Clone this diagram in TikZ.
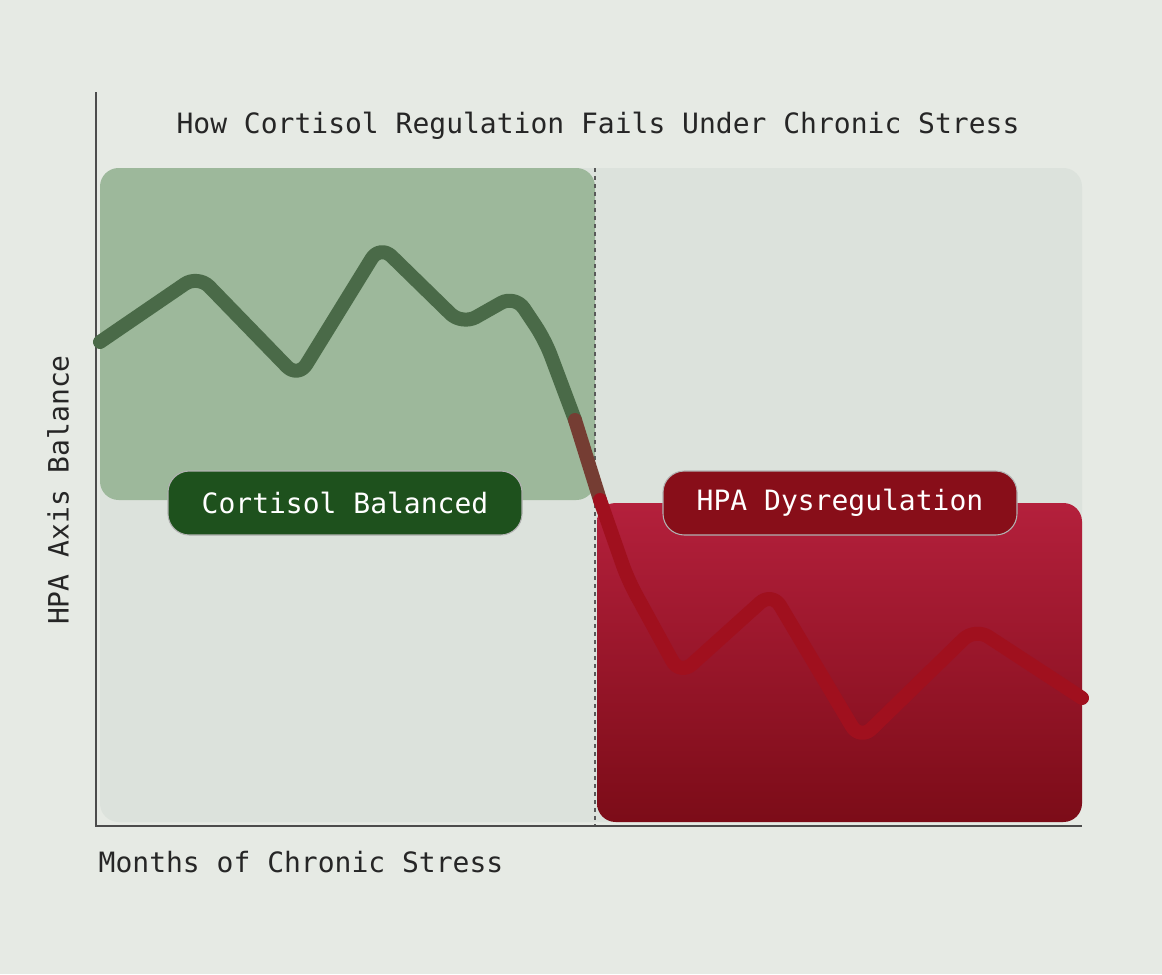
\documentclass[tikz,border=0pt]{standalone}
\usepackage{fontspec}
\setmonofont{DejaVu Sans Mono}
\begin{document}
\begin{tikzpicture}[x=0.75pt,y=-0.75pt,
  lbl/.style={font=\ttfamily\fontsize{21}{24}\selectfont, text=black!85},
  pill/.style={rounded corners=16pt, minimum width=265.5pt, minimum height=48pt, text=white, font=\ttfamily\fontsize{21}{24}\selectfont, draw=white!40!gray, line width=0.8pt},
  curve/.style={line width=10.5pt, line cap=round, line join=round, rounded corners=12pt}]
\definecolor{bg}{HTML}{E6EAE4}
\definecolor{panel}{HTML}{DCE2DC}
\definecolor{gpanel}{HTML}{9DB89B}
\definecolor{gline}{HTML}{4A6A48}
\definecolor{rline}{HTML}{A0101E}
\definecolor{rtop}{HTML}{B4203C}
\definecolor{rbot}{HTML}{7C0C18}
\fill[bg] (0,0) rectangle (1162,974);
\useasboundingbox (0,0) rectangle (1162,974);
\fill[panel, rounded corners=14pt] (100,168) rectangle (1082,822);
\fill[gpanel, rounded corners=14pt] (100,168) rectangle (595,500);
\shade[top color=rtop, bottom color=rbot, rounded corners=14pt] (597,503) rectangle (1082,822);
\draw[dashed, line width=1.2pt, black!65] (595,168) -- (595,826);
\draw[line width=1.2pt, black!70] (96,92) -- (96,826) -- (1082,826);
\draw[curve, gline] (100,342) -- (198,275) -- (298,378) -- (380,245) -- (462,325) -- (515,295) -- (545,340) -- (575,420);
\draw[curve, gline!50!rline] (575,420) -- (600,500);
\draw[curve, rline] (600,500) -- (628,580) -- (680,675) -- (772,592) -- (860,740) -- (975,628) -- (1082,698);
\node[pill, fill=green!25!black!60!gline] (cb) at (345,503) {Cortisol Balanced};
\node[pill, fill=rline!85!black] (hd) at (840,503) {HPA Dysregulation};
\node[lbl] (title) at (598,126) {How Cortisol Regulation Fails Under Chronic Stress};
\node[lbl, rotate=90] (ylab) at (58,490) {HPA Axis Balance};
\node[lbl, anchor=west] (xlab) at (94,862) {Months of Chronic Stress};
\end{tikzpicture}
\end{document}
